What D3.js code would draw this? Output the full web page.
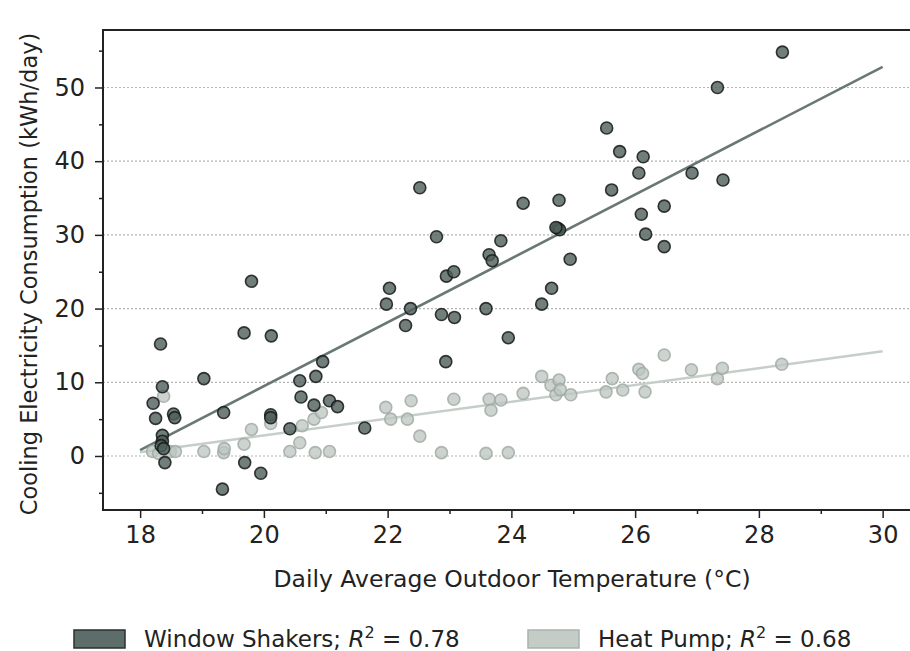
<!DOCTYPE html>
<html>
<head>
<meta charset="utf-8">
<script src="https://cdn.jsdelivr.net/npm/d3@7"></script>
<style>
  body { margin: 0; background: #fff; }
  text { font-family: "DejaVu Sans", sans-serif; fill: #222; }
</style>
</head>
<body>
<div id="viz-container"></div>
<script>
// window shakers (dark) readings
let windowTemp = [18.33, 18.36, 18.21, 18.25, 18.54, 18.56, 18.36, 18.36, 18.34, 18.38, 18.4,
  19.03, 19.35, 19.33, 19.69, 19.95, 19.68, 20.12, 20.11, 20.11, 19.8,
  20.95, 20.84, 20.58, 20.6, 20.81, 21.06, 21.19, 20.42, 21.63,
  22.29, 22.94, 22.03, 21.98, 22.37, 22.87, 23.08, 22.95, 23.07, 23.59, 23.95, 23.64, 23.69,
  24.49, 24.65, 24.95, 22.52, 22.79, 23.83, 24.19, 24.77, 24.75, 24.78, 24.72,
  25.54, 25.75, 25.62, 26.13, 26.06, 26.92, 27.42, 26.47, 26.1, 26.17, 26.47, 27.33, 28.38];
let windowKwh = [15.2, 9.4, 7.15, 5.1, 5.7, 5.2, 2.8, 2.0, 1.4, 1.0, -0.9,
  10.5, 5.9, -4.5, -0.9, -2.35, 16.7, 16.3, 5.6, 5.2, 23.7,
  12.8, 10.8, 10.2, 8.0, 6.9, 7.5, 6.7, 3.7, 3.8,
  17.7, 12.8, 22.75, 20.6, 20.0, 19.2, 18.8, 24.4, 25.0, 20.0, 16.05, 27.3, 26.5,
  20.6, 22.75, 26.7, 36.4, 29.75, 29.2, 34.3, 34.7, 30.9, 30.7, 31.0,
  44.5, 41.3, 36.1, 40.6, 38.4, 38.4, 37.45, 33.9, 32.8, 30.1, 28.4, 50.0, 54.8];

// heat pump (light) readings
let heatTemp = [18.38, 18.2, 18.3, 18.49, 18.57, 19.03, 19.35, 19.36, 19.68, 19.8, 20.11,
  20.58, 20.42, 20.83, 21.06, 20.62, 20.81, 20.93, 21.97, 22.05, 22.32, 22.38, 22.52, 22.87,
  23.07, 23.59, 23.95, 23.64, 23.83, 23.67, 24.19, 24.49, 24.64, 24.77, 24.72, 24.79, 24.96,
  25.53, 25.63, 25.8, 26.06, 26.12, 26.16, 26.47, 26.91, 27.33, 27.41, 28.37];
let heatKwh = [8.1, 0.6, 0.35, 0.6, 0.6, 0.6, 0.45, 1.0, 1.6, 3.6, 4.4,
  1.8, 0.6, 0.45, 0.6, 4.1, 5.0, 5.9, 6.6, 5.0, 5.0, 7.5, 2.7, 0.45,
  7.7, 0.35, 0.45, 7.7, 7.6, 6.2, 8.5, 10.8, 9.6, 10.3, 8.3, 9.0, 8.3,
  8.7, 10.5, 8.95, 11.75, 11.2, 8.7, 13.7, 11.7, 10.5, 11.9, 12.45];

// fitted lines, read at both ends
let fitTemps = [18, 30];
let windowFit = [0.8, 52.8];
let heatFit = [0.5, 14.2];

let xTicks = [18, 20, 22, 24, 26, 28, 30];
let xMinor = [19, 21, 23, 25, 27, 29];
let yTicks = [0, 10, 20, 30, 40, 50];
let yMinor = [-5, 5, 15, 25, 35, 45, 55];

let legendNames = ["Window Shakers; ", "Heat Pump; "];
let legendR2 = ["0.78", "0.68"];

let plotLeft = 103, plotTop = 30, plotBottom = 510, plotRight = 921;

let viz = d3.select("#viz-container")
  .append("svg")
    .attr("width", 910)
    .attr("height", 651);

let x = d3.scaleLinear().domain([17.4, 30.62]).range([plotLeft, plotRight]);
let y = d3.scaleLinear().domain([-7.33, 57.8]).range([plotBottom, plotTop]);

// grid
viz.selectAll(".grid").data(yTicks).enter()
  .append("line")
    .attr("class", "grid")
    .attr("x1", plotLeft)
    .attr("x2", plotRight)
    .attr("y1", d => y(d))
    .attr("y2", d => y(d))
    .attr("stroke", "#b4b4b4")
    .attr("stroke-width", 1.2)
    .attr("stroke-dasharray", "2,2");

// regression lines
function fitLine(vals) {
  return d3.line()
    .x((d, i) => x(fitTemps[i]))
    .y(d => y(d))(vals);
}
viz.append("path")
  .attr("d", fitLine(heatFit))
  .attr("fill", "none")
  .attr("stroke", "#c6cec9")
  .attr("stroke-width", 2.6);
viz.append("path")
  .attr("d", fitLine(windowFit))
  .attr("fill", "none")
  .attr("stroke", "#6a7875")
  .attr("stroke-width", 2.6);

// points
viz.selectAll(".heat").data(heatTemp).enter()
  .append("circle")
    .attr("class", "heat")
    .attr("cx", d => x(d))
    .attr("cy", (d, i) => y(heatKwh[i]))
    .attr("r", 6)
    .attr("fill", "#bcc5c0")
    .attr("fill-opacity", 0.75)
    .attr("stroke", "#9ea7a2")
    .attr("stroke-opacity", 0.8)
    .attr("stroke-width", 1.6);

viz.selectAll(".window").data(windowTemp).enter()
  .append("circle")
    .attr("class", "window")
    .attr("cx", d => x(d))
    .attr("cy", (d, i) => y(windowKwh[i]))
    .attr("r", 6)
    .attr("fill", "#4f5e5a")
    .attr("fill-opacity", 0.8)
    .attr("stroke", "#151a19")
    .attr("stroke-opacity", 0.85)
    .attr("stroke-width", 1.6);

// axes
let xAxis = d3.axisBottom(x).tickValues(xTicks).tickSize(8).tickPadding(8).tickFormat(d3.format("d"));
let xAxisMinor = d3.axisBottom(x).tickValues(xMinor).tickSize(4).tickFormat("");
let yAxis = d3.axisLeft(y).tickValues(yTicks).tickSize(8).tickPadding(10).tickFormat(d3.format("d"));
let yAxisMinor = d3.axisLeft(y).tickValues(yMinor).tickSize(4).tickFormat("");

let gx = viz.append("g").attr("transform", "translate(0," + plotBottom + ")").call(xAxis);
viz.append("g").attr("transform", "translate(0," + plotBottom + ")").call(xAxisMinor);
let gy = viz.append("g").attr("transform", "translate(" + plotLeft + ",0)").call(yAxis);
viz.append("g").attr("transform", "translate(" + plotLeft + ",0)").call(yAxisMinor);

viz.selectAll(".domain").remove();
viz.selectAll(".tick line").attr("stroke", "#222").attr("stroke-width", 1.5);
gx.selectAll("text").attr("font-size", 24).attr("fill", "#222");
gy.selectAll("text").attr("font-size", 24).attr("fill", "#222");

// frame
viz.append("rect")
  .attr("x", plotLeft)
  .attr("y", plotTop)
  .attr("width", plotRight - plotLeft)
  .attr("height", plotBottom - plotTop)
  .attr("fill", "none")
  .attr("stroke", "#222")
  .attr("stroke-width", 2);

// axis titles
viz.append("text")
  .text("Daily Average Outdoor Temperature (°C)")
  .attr("x", 512)
  .attr("y", 587)
  .attr("text-anchor", "middle")
  .attr("font-size", 23.5);

viz.append("text")
  .text("Cooling Electricity Consumption (kWh/day)")
  .attr("transform", "translate(37,274) rotate(-90)")
  .attr("text-anchor", "middle")
  .attr("font-size", 22.5);

// legend
let legendX = [74, 528];
let legendFill = ["#5d6d69", "#c4ccc7"];
let legendEdge = ["#2a302e", "#aab2ad"];

let leg = viz.selectAll(".leg").data(legendNames).enter()
  .append("g")
    .attr("class", "leg")
    .attr("transform", (d, i) => "translate(" + legendX[i] + ",630)");

leg.append("rect")
  .attr("width", 51)
  .attr("height", 18)
  .attr("fill", (d, i) => legendFill[i])
  .attr("stroke", (d, i) => legendEdge[i])
  .attr("stroke-width", 1.5);

let lt = leg.append("text")
  .attr("x", 70)
  .attr("y", 17)
  .attr("font-size", 23);
lt.append("tspan").text(d => d);
lt.append("tspan").text("R").attr("font-style", "italic");
lt.append("tspan").text("2").attr("font-size", 16).attr("dy", -9);
lt.append("tspan").text((d, i) => " = " + legendR2[i]).attr("dy", 9);
</script>
</body>
</html>
